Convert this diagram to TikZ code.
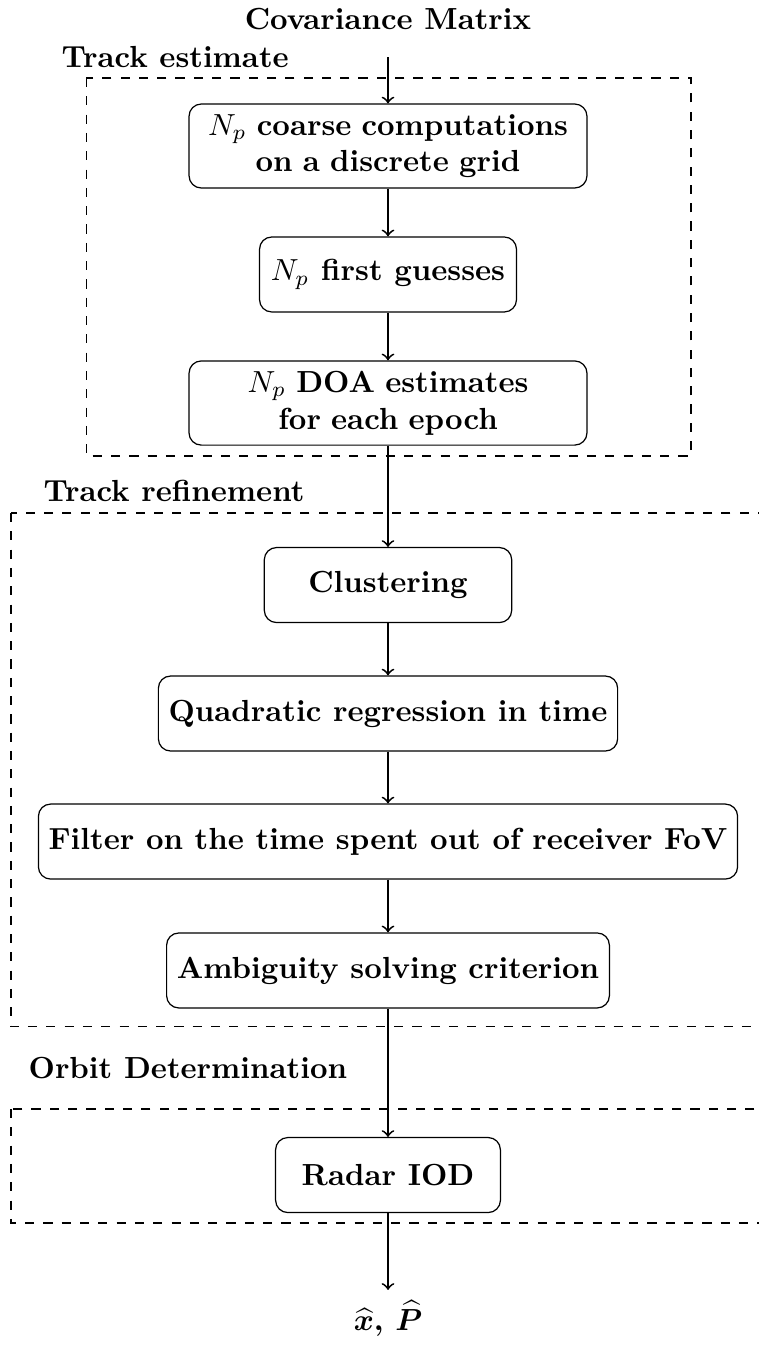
\documentclass[tikz,border=0pt]{standalone}
\usepackage{amsmath,amssymb}

\begin{document}
\begin{tikzpicture}[font=\bfseries,
  stepbox/.style={draw,rounded corners,align=center,minimum height=0.864cm},
  flow/.style={->,semithick},
  region/.style={draw,dashed}]
\useasboundingbox (0,0) rectangle (8.733,-15.495);
% input and output
\node (cov) at (4.47,-0.22) {Covariance Matrix};
\node (est) at (4.47,-15.19) {$\boldsymbol{\widehat{x}}$, $\boldsymbol{\widehat{P}}$};
% track estimate
\node[anchor=base west] (lbltrack) at (0.586,-0.772) {Track estimate};
\draw[region] (0.994,-0.899) rectangle (7.961,-5.253);
\node[stepbox,text width=4.35cm] (coarse) at (4.47,-1.682) {$N_p$ coarse computations on a discrete grid};
\node[stepbox,minimum width=2.96cm] (guesses) at (4.47,-3.162) {$N_p$ first guesses};
\node[stepbox,text width=4.35cm] (doa) at (4.47,-4.643) {$N_p$ DOA estimates\\ for each epoch};
% track refinement
\node[anchor=base west] (lblrefine) at (0.378,-5.783) {Track refinement};
\draw[region] (0.127,-5.91) rectangle (9.0,-11.83);
\node[stepbox,minimum width=2.85cm] (clust) at (4.47,-6.74) {Clustering};
\node[stepbox] (quad) at (4.47,-8.22) {Quadratic regression in time};
\node[stepbox] (filt) at (4.47,-9.695) {Filter on the time spent out of receiver FoV};
\node[stepbox] (ambig) at (4.47,-11.18) {Ambiguity solving criterion};
% orbit determination
\node[anchor=base west] (lblorbit) at (0.206,-12.42) {Orbit Determination};
\draw[region] (0.127,-12.776) rectangle (9.0,-14.09);
\node[stepbox,minimum width=2.59cm] (radar) at (4.47,-13.537) {Radar IOD};
% arrows
\draw[flow,shorten <=5.5pt] (cov) -- (coarse);
\foreach \a/\b in {coarse/guesses,guesses/doa,doa/clust,clust/quad,quad/filt,filt/ambig,ambig/radar,radar/est}
  \draw[flow] (\a) -- (\b);
\end{tikzpicture}
\end{document}
